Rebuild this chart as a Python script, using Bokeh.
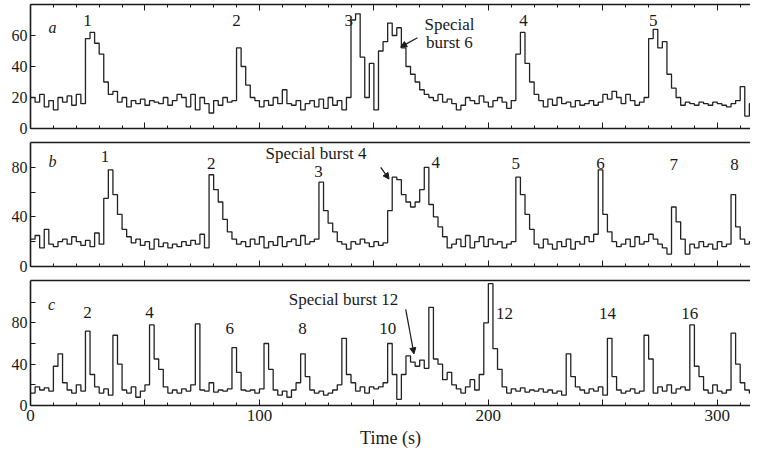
from bokeh.plotting import figure
from bokeh.layouts import column
from bokeh.models import (Range1d, FixedTicker, LinearAxis, Arrow, NormalHead, ColumnDataSource,
                          CustomLabelingPolicy)
from bokeh.core.properties import value
from bokeh.embed import file_html
from bokeh.resources import INLINE

# sampling grid (s)
time_s = list(range(0, 317, 2))

rate_a = [20, 17, 22, 14, 18, 12, 20, 17, 21, 15,
          22, 16, 58, 62, 55, 48, 30, 22, 24, 17,
          20, 14, 18, 16, 19, 15, 18, 17, 16, 20,
          15, 18, 22, 20, 14, 22, 12, 20, 16, 10,
          18, 15, 20, 17, 18, 52, 40, 28, 20, 18,
          14, 18, 15, 20, 16, 25, 16, 15, 18, 12,
          16, 18, 14, 19, 13, 20, 15, 18, 12, 20,
          70, 74, 46, 20, 42, 12, 50, 56, 68, 60,
          65, 52, 40, 35, 30, 25, 22, 20, 18, 22,
          17, 19, 16, 12, 15, 20, 18, 16, 21, 17,
          14, 18, 20, 17, 13, 18, 48, 62, 42, 30,
          22, 18, 14, 19, 15, 20, 16, 17, 14, 18,
          15, 16, 18, 15, 17, 22, 19, 24, 20, 16,
          22, 18, 15, 17, 20, 58, 64, 52, 56, 35,
          26, 20, 15, 17, 16, 15, 17, 16, 15, 17,
          16, 15, 14, 16, 18, 27, 8, 16, 14]

rate_b = [22, 25, 15, 30, 18, 16, 20, 22, 18, 24,
          20, 17, 21, 16, 27, 18, 55, 78, 58, 42,
          30, 24, 19, 22, 17, 20, 14, 22, 16, 19,
          15, 18, 16, 20, 17, 21, 18, 26, 15, 74,
          62, 52, 38, 28, 22, 18, 20, 16, 22, 18,
          24, 15, 20, 17, 24, 16, 20, 22, 17, 25,
          18, 20, 22, 68, 45, 35, 28, 20, 18, 14,
          20, 18, 22, 19, 16, 20, 17, 19, 45, 72,
          70, 58, 52, 48, 52, 62, 80, 50, 40, 32,
          24, 15, 18, 22, 16, 25, 15, 20, 24, 16,
          22, 18, 20, 15, 18, 20, 72, 58, 42, 30,
          18, 15, 22, 18, 14, 20, 16, 22, 14, 20,
          18, 24, 20, 26, 78, 42, 28, 20, 16, 18,
          22, 16, 24, 18, 20, 26, 22, 18, 15, 10,
          48, 36, 22, 10, 18, 15, 20, 16, 18, 14,
          20, 16, 18, 58, 32, 22, 18, 20, 15]

rate_c = [12, 18, 15, 17, 14, 38, 50, 22, 15, 12,
          20, 14, 72, 30, 18, 12, 16, 10, 68, 40,
          15, 12, 18, 8, 14, 20, 78, 45, 35, 18,
          12, 15, 12, 16, 14, 20, 79, 15, 14, 22,
          13, 15, 14, 16, 56, 32, 15, 14, 15, 12,
          16, 60, 35, 15, 10, 14, 8, 15, 22, 50,
          28, 15, 12, 14, 10, 12, 15, 20, 65, 30,
          22, 14, 18, 12, 18, 16, 18, 22, 60, 30,
          6, 30, 48, 42, 38, 44, 36, 95, 45, 40,
          25, 32, 20, 16, 12, 18, 25, 15, 30, 80,
          118, 55, 35, 18, 12, 16, 14, 17, 13, 15,
          14, 16, 13, 15, 12, 14, 10, 50, 28, 18,
          15, 12, 16, 14, 18, 10, 65, 28, 15, 12,
          14, 16, 12, 14, 68, 45, 12, 18, 14, 20,
          12, 16, 18, 15, 78, 38, 28, 15, 12, 20,
          14, 12, 15, 70, 40, 22, 15, 12, 14]

# annotations
labels_a = ["1", "2", "3", "4", "5", "Special", "burst 6"]
labels_a_t = [24.9, 90, 139, 215.3, 272, 183, 183]
labels_a_v = [70, 70, 69.5, 69.5, 69.5, 67, 55.5]
labels_b = ["1", "2", "Special burst 4", "3", "4", "5", "6", "7", "8"]
labels_b_t = [32.5, 79, 124.7, 125.8, 177, 212, 249, 281, 307.5]
labels_b_v = [88.5, 83, 90.8, 77, 84, 83, 83, 82, 82]
labels_c = ["2", "4", "6", "8", "10", "Special burst 12", "12", "14", "16"]
labels_c_t = [24.9, 52, 87, 118.8, 156, 136.7, 207, 252, 288]
labels_c_v = [90, 90, 75, 75, 75, 103, 89, 89, 89]

panel_letters = ["a", "b", "c"]
letter_t = [9.6, 9.6, 9.2]
letter_v = [65, 84.6, 97.7]

arrow_a = (169, 58.6, 161.7, 52.5)
arrow_b = (153, 80, 156.6, 70.5)
arrow_c = (163.9, 93, 167.5, 50)

y_ends = [80, 100, 121]
y_major = [[0, 20, 40, 60], [0, 40, 80], [0, 40, 80]]
y_minor = [[], [20, 60], [20, 60, 100]]
x_major = [0, 50, 100, 150, 200, 250, 300]
x_minor = [10, 20, 30, 40, 60, 70, 80, 90, 110, 120, 130, 140, 160, 170, 180, 190,
           210, 220, 230, 240, 260, 270, 280, 290, 310]

FONT = "Liberation Serif"
INK = "#1a1a1a"
xr = Range1d(0, 314.5)
NO_LABELS = "return new Set()"


def style_x(ax, show_labels, show_ticks=True):
    ax.ticker = FixedTicker(ticks=x_major, minor_ticks=x_minor)
    ax.axis_line_color = INK
    ax.axis_line_width = 1.6
    ax.major_tick_in = 6 if show_ticks else 0
    ax.major_tick_out = 0
    ax.minor_tick_in = 3 if show_ticks else 0
    ax.minor_tick_out = 0
    ax.major_tick_line_color = INK if show_ticks else None
    ax.minor_tick_line_color = INK if show_ticks else None
    ax.major_label_text_font = FONT
    ax.major_label_text_color = INK
    if show_labels:
        ax.major_label_text_font_size = "17px"
        ax.major_label_overrides = {50: "", 150: "", 250: ""}
        ax.major_label_standoff = 4
    else:
        ax.major_label_text_font_size = "1px"
        ax.major_label_policy = CustomLabelingPolicy(code=NO_LABELS)
        ax.major_label_standoff = 0


def make_panel(i, rates, labels, lt, lv, arrow, bottom_labels, top_ticks, fh, mb):
    bottom = LinearAxis()
    top = LinearAxis()
    left = LinearAxis()
    p = figure(x_range=xr, y_range=Range1d(0, y_ends[i]), frame_width=720, frame_height=fh,
               output_backend="svg", toolbar_location=None, x_axis_location=None,
               y_axis_location=None,
               min_border_left=30, min_border_right=0, min_border_top=0, min_border_bottom=mb)
    p.grid.visible = False
    p.outline_line_color = None
    p.background_fill_color = "white"
    p.border_fill_color = "white"

    style_x(bottom, bottom_labels)
    style_x(top, False, top_ticks)
    p.add_layout(bottom, "below")
    p.add_layout(top, "above")

    left.ticker = FixedTicker(ticks=y_major[i], minor_ticks=y_minor[i])
    left.axis_line_color = INK
    left.axis_line_width = 1.6
    left.major_tick_in = 5
    left.major_tick_out = 0
    left.minor_tick_in = 5
    left.minor_tick_out = 0
    left.major_tick_line_color = INK
    left.minor_tick_line_color = INK
    left.major_label_text_font = FONT
    left.major_label_text_font_size = "16px"
    left.major_label_text_color = INK
    left.major_label_standoff = 3
    p.add_layout(left, "left")

    src = ColumnDataSource(dict(t=time_s, r=rates))
    p.step(x="t", y="r", source=src, mode="after", line_color="#222222", line_width=1.3)

    lsrc = ColumnDataSource(dict(t=lt, v=lv, s=labels))
    p.text(x="t", y="v", text="s", source=lsrc, text_font=value(FONT),
           text_font_size="17px", text_align="center", text_baseline="middle", text_color=INK)

    psrc = ColumnDataSource(dict(t=[letter_t[i]], v=[letter_v[i]], s=[panel_letters[i]]))
    p.text(x="t", y="v", text="s", source=psrc, text_font=value(FONT), text_font_style="italic",
           text_font_size="16px", text_align="center", text_baseline="middle", text_color=INK)

    p.add_layout(Arrow(end=NormalHead(size=6, fill_color=INK, line_color=INK),
                       x_start=arrow[0], y_start=arrow[1], x_end=arrow[2], y_end=arrow[3],
                       line_color=INK, line_width=1.2))
    return p, bottom


pa, _ = make_panel(0, rate_a, labels_a, labels_a_t, labels_a_v, arrow_a, False, True, 124, 10)
pb, _ = make_panel(1, rate_b, labels_b, labels_b_t, labels_b_v, arrow_b, False, False, 124, 10)
pc, xc = make_panel(2, rate_c, labels_c, labels_c_t, labels_c_v, arrow_c, True, False, 125, 0)
xc.axis_label = "Time (s)"
xc.axis_label_text_font = FONT
xc.axis_label_text_font_size = "18px"
xc.axis_label_text_font_style = "normal"
xc.axis_label_text_color = INK
xc.axis_label_standoff = 4

layout = column(pa, pb, pc, spacing=0)
open("out.html", "w").write(file_html(layout, INLINE))
